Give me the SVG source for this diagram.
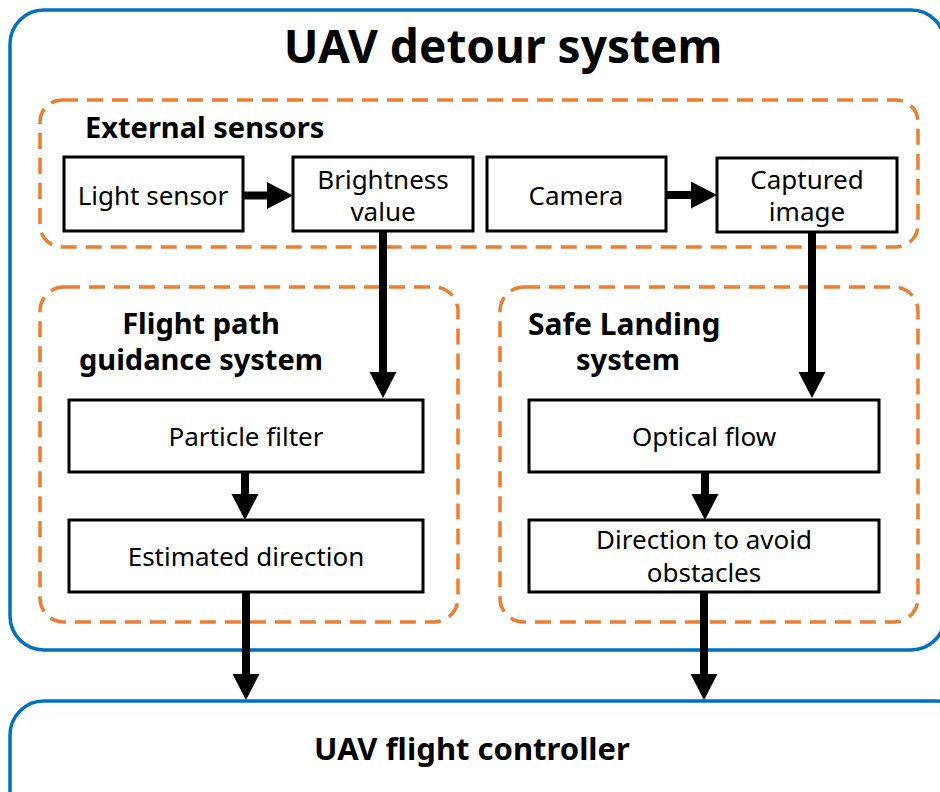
<svg xmlns="http://www.w3.org/2000/svg" width="940" height="792" viewBox="0 0 940 792">
<style>
.blue{fill:#fff;stroke:#0070C0;stroke-width:3.5}
.dash{fill:none;stroke:#ED7D31;stroke-width:3.5;stroke-dasharray:16 9}
.box{fill:#fff;stroke:#000;stroke-width:3}
.t{font-family:"Noto Sans","Open Sans",sans-serif;font-size:26px;fill:#000;text-anchor:middle}
.h{font-family:"Noto Sans","Open Sans",sans-serif;font-weight:bold;fill:#000}
.c{stroke:#000;stroke-width:8;fill:none;marker-end:url(#ah)}
</style>
<defs>
<marker id="ah" markerUnits="userSpaceOnUse" markerWidth="28" markerHeight="28" viewBox="0 -14 27 28" refX="0" refY="0" orient="auto">
<path d="M0,-13.5 L26,0 L0,13.5 z" fill="#000"/>
</marker>
</defs>
<g id="detour">
<rect class="blue" x="10" y="10" width="935" height="640" rx="34"/>
<text class="h" x="503" y="63" font-size="46" text-anchor="middle">UAV detour system</text>
</g>
<g id="external">
<rect class="dash" x="40" y="100" width="878" height="147" rx="22"/>
<text class="h" x="85" y="138" font-size="29">External sensors</text>
</g>
<g id="flightpath">
<rect class="dash" x="40" y="287" width="418" height="335" rx="24"/>
<text class="h" x="201" y="334" font-size="29" text-anchor="middle">Flight path</text>
<text class="h" x="201" y="370" font-size="29" text-anchor="middle">guidance system</text>
</g>
<g id="safelanding">
<rect class="dash" x="500" y="287" width="418" height="335" rx="24"/>
<text class="h" x="528" y="335" font-size="30">Safe Landing</text>
<text class="h" x="628" y="370" font-size="29" text-anchor="middle">system</text>
</g>
<g id="lightsensor">
<rect class="box" x="64" y="157" width="179" height="74"/>
<text class="t" x="153" y="205">Light sensor</text>
</g>
<g id="brightness">
<rect class="box" x="293" y="157" width="180" height="74"/>
<text class="t" x="383" y="189">Brightness</text>
<text class="t" x="383" y="221">value</text>
</g>
<g id="camera">
<rect class="box" x="487" y="157" width="179" height="74"/>
<text class="t" x="576" y="205">Camera</text>
</g>
<g id="captured">
<rect class="box" x="717" y="158" width="180" height="74"/>
<text class="t" x="807" y="189">Captured</text>
<text class="t" x="807" y="221">image</text>
</g>
<g id="particle">
<rect class="box" x="69" y="400" width="354" height="72"/>
<text class="t" x="246" y="446">Particle filter</text>
</g>
<g id="estimated">
<rect class="box" x="69" y="520" width="354" height="72"/>
<text class="t" x="246" y="566">Estimated direction</text>
</g>
<g id="optical">
<rect class="box" x="529" y="400" width="350" height="72"/>
<text class="t" x="704" y="446">Optical flow</text>
</g>
<g id="avoid">
<rect class="box" x="529" y="520" width="350" height="72"/>
<text class="t" x="704" y="549">Direction to avoid</text>
<text class="t" x="704" y="582">obstacles</text>
</g>
<g id="controller">
<rect class="blue" x="10" y="701" width="960" height="140" rx="34"/>
<text class="h" x="472" y="760" font-size="31" text-anchor="middle">UAV flight controller</text>
</g>
<g id="connectors">
<line class="c" x1="243" y1="195.5" x2="267" y2="195.5"/>
<line class="c" x1="666" y1="195" x2="691" y2="195"/>
<line class="c" x1="383" y1="231" x2="383" y2="372"/>
<line class="c" x1="812" y1="232" x2="812" y2="372"/>
<line class="c" x1="245" y1="472" x2="245" y2="494"/>
<line class="c" x1="705" y1="472" x2="705" y2="494"/>
<line class="c" x1="246" y1="592" x2="246" y2="674"/>
<line class="c" x1="704" y1="592" x2="704" y2="674"/>
</g>
</svg>
